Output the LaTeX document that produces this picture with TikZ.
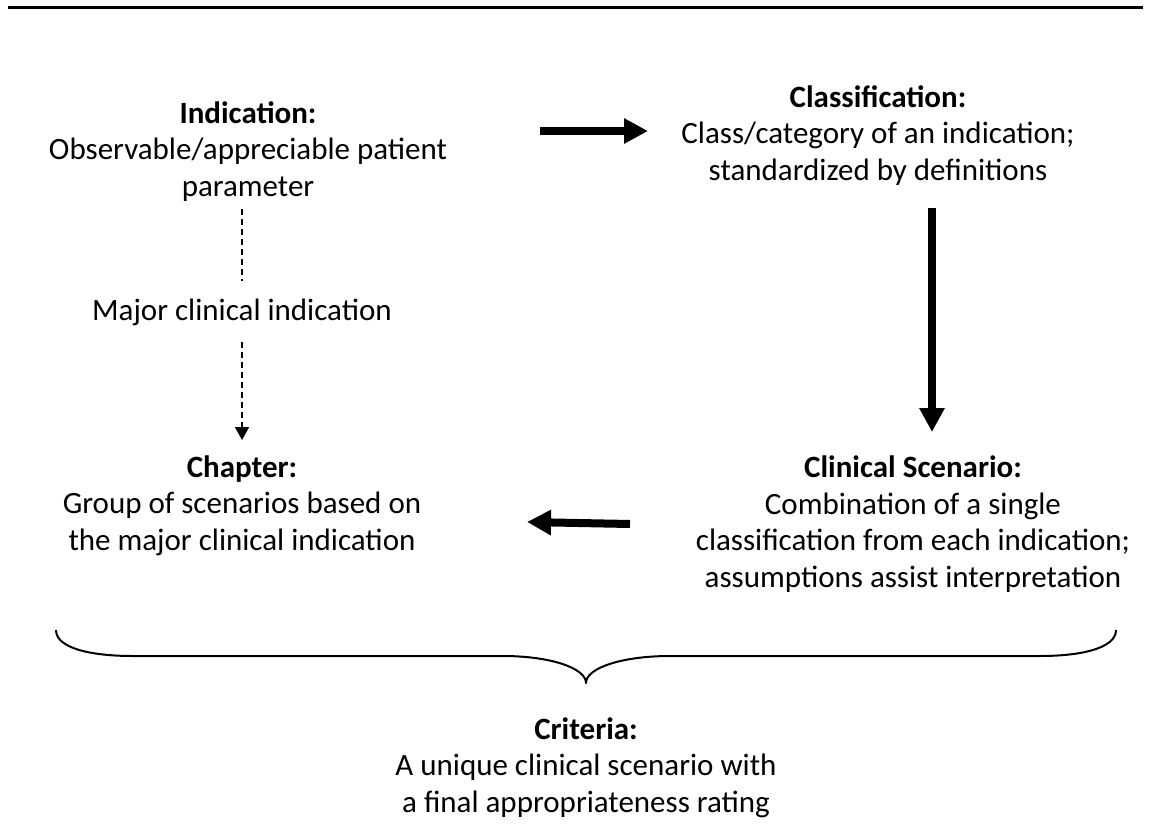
\documentclass[tikz,border=0pt]{standalone}
\usepackage{fontspec}
\setmainfont{Carlito}
\usetikzlibrary{arrows.meta}
\begin{document}
\begin{tikzpicture}[x=1pt,y=-1pt,
  txt/.style={align=center, inner sep=0pt, anchor=base, font=\fontsize{31}{36.5}\selectfont},
  bigarrow/.style={line width=8pt, -{Triangle[length=24pt,width=24pt]}},
  dasharrow/.style={line width=1.5pt, dash pattern=on 6pt off 4pt},
  dashtip/.style={dasharrow, -{Triangle[length=13pt,width=14pt]}},
  bracestyle/.style={line width=2pt, line join=round}
]
\useasboundingbox (0,0) rectangle (1151,840);
\draw[line width=3pt] (8,8) -- (1143,8);

% anchor=base places the LAST line's baseline at the given point
\node[txt] (ind) at (248,196) {\textbf{Indication:}\\Observable/appreciable patient\\parameter};
\node[txt] (cls) at (878,180) {\textbf{Classification:}\\Class/category of an indication;\\standardized by definitions};
\node[txt] (maj) at (242,320) {Major clinical indication};
\node[txt] (chp) at (242,550) {\textbf{Chapter:}\\Group of scenarios based on\\the major clinical indication};
\node[txt] (scn) at (913,587) {\textbf{Clinical Scenario:}\\Combination of a single\\classification from each indication;\\assumptions assist interpretation};
\node[txt] (crt) at (586,812) {\textbf{Criteria:}\\A unique clinical scenario with\\a final appropriateness rating};

\coordinate (a1s) at (540,131);
\coordinate (a1e) at (648,131);
\draw[bigarrow] (a1s) -- (a1e);

\coordinate (a2s) at (932,208);
\coordinate (a2e) at (932,432);
\draw[bigarrow] (a2s) -- (a2e);

\coordinate (a3s) at (630,524);
\coordinate (a3e) at (527,522);
\draw[bigarrow] (a3s) -- (a3e);

\coordinate (d1s) at (242,209);
\coordinate (d1e) at (242,281);
\draw[dasharrow] (d1s) -- (d1e);
\coordinate (d2s) at (242,342);
\coordinate (d2e) at (242,440);
\draw[dashtip] (d2s) -- (d2e);

\coordinate (bl) at (56,630);
\coordinate (bt) at (586,683);
\coordinate (br) at (1116,630);
\draw[bracestyle] (bl) .. controls (56,648) and (90,656) .. (133,656) -- (503,656)
  .. controls (550,656) and (586,668) .. (bt)
  .. controls (586,668) and (622,656) .. (670,656) -- (1040,656)
  .. controls (1082,656) and (1116,648) .. (br);
\end{tikzpicture}
\end{document}
